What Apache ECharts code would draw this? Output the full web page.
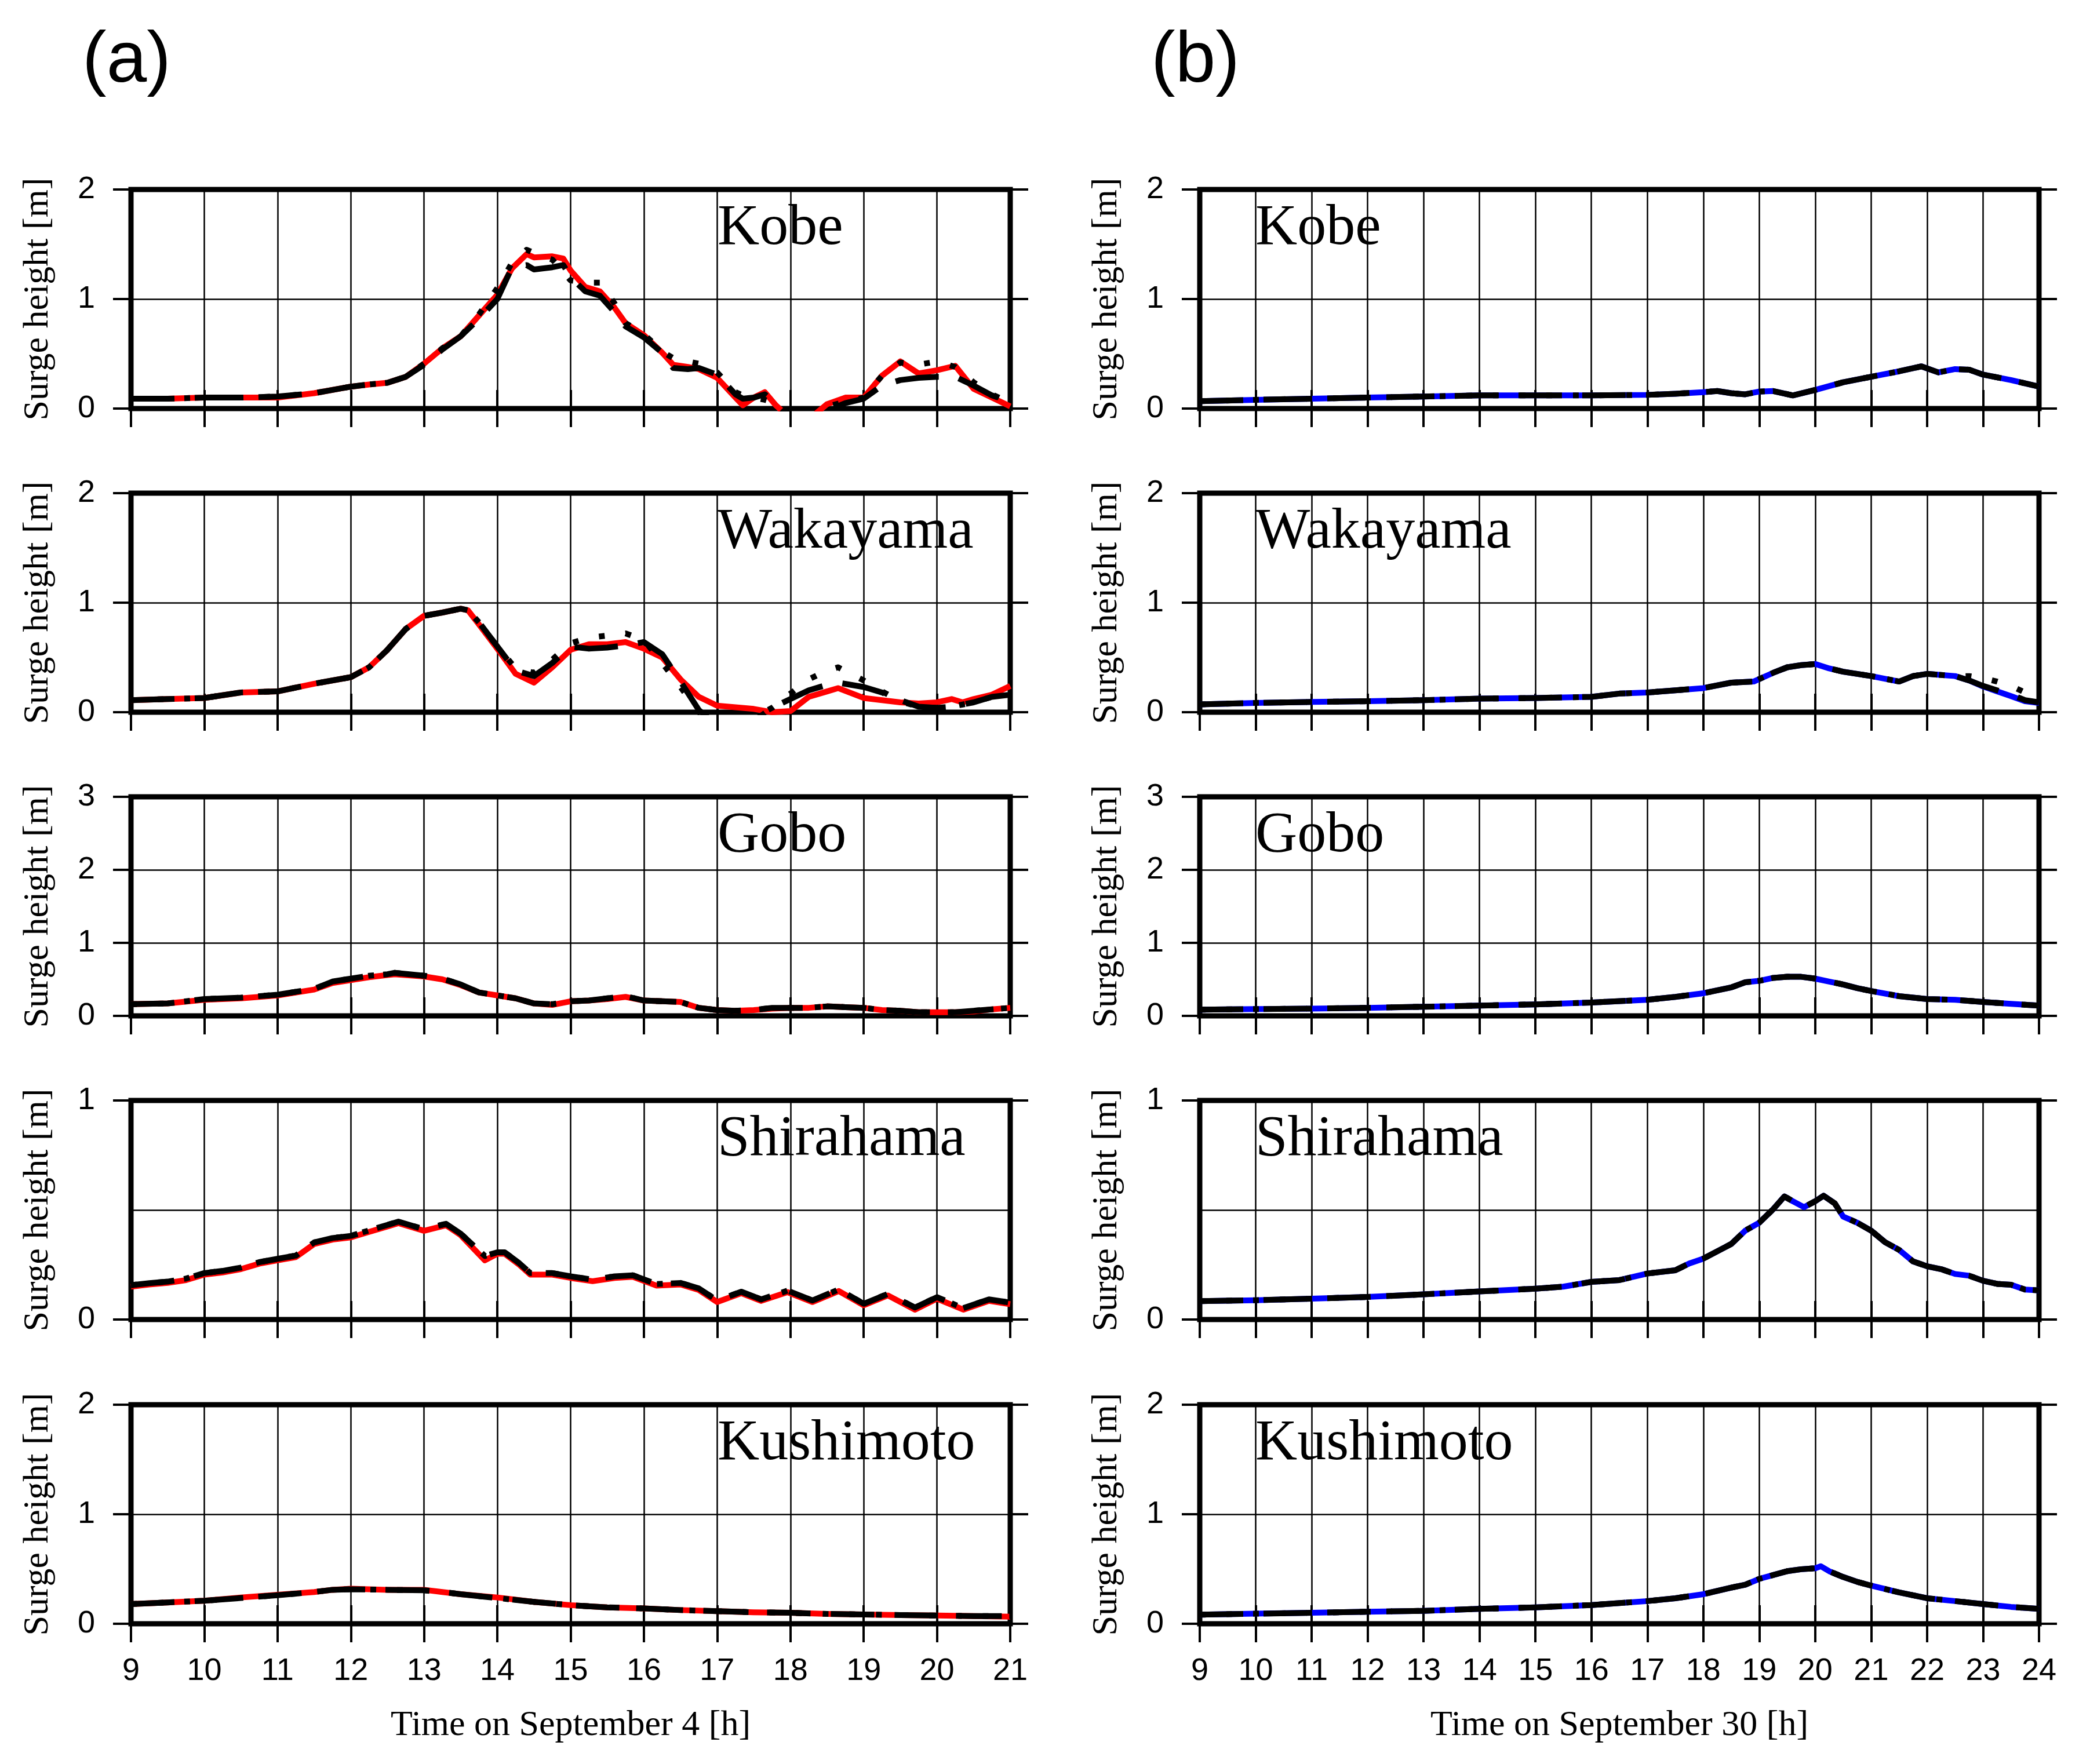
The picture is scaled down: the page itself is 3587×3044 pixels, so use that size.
<!DOCTYPE html>
<html><head><meta charset="utf-8">
<script src="https://cdn.jsdelivr.net/npm/echarts@6/dist/echarts.min.js"></script>
<style>html,body{margin:0;padding:0;background:#fff}#c{width:3587px;height:3044px}</style>
</head><body><div id="c"></div>
<script>
// ---------- DATA (September 4, column a) ----------
const kobeA_t   = [9,9.5,10,10.5,11,11.5,12,12.25,12.5,12.75,13,13.25,13.5,13.75,14,14.2,14.4,14.5,14.75,14.9,15,15.2,15.4,15.6,15.75,16,16.25,16.4,16.6,16.75,17,17.25,17.35,17.5,17.65,17.8,17.9,18,18.25,18.5,18.75,19,19.25,19.5,19.75,20,20.25,20.5,20.75,21];
const kobeA_obs = [0.09,0.09,0.10,0.10,0.10,0.14,0.20,0.22,0.235,0.29,0.41,0.55,0.66,0.85,1.04,1.28,1.41,1.38,1.39,1.37,1.26,1.11,1.07,0.92,0.78,0.67,0.51,0.40,0.38,0.36,0.28,0.10,0.03,0.10,0.15,0.03,-0.03,-0.08,-0.10,0.04,0.10,0.10,0.30,0.43,0.32,0.35,0.39,0.18,0.10,0.02];
const kobeA_dash= [0.09,0.09,0.10,0.10,0.11,0.14,0.20,0.22,0.235,0.29,0.40,0.54,0.66,0.82,1.00,1.29,1.31,1.27,1.29,1.31,1.20,1.07,1.03,0.88,0.75,0.65,0.51,0.37,0.36,0.37,0.31,0.13,0.09,0.10,0.13,0.05,-0.02,-0.08,-0.12,-0.02,0.05,0.09,0.21,0.26,0.28,0.29,0.29,0.21,0.12,0.06];
const kobeA_dot = [0.09,0.09,0.10,0.10,0.11,0.14,0.20,0.22,0.235,0.29,0.41,0.55,0.66,0.86,1.10,1.33,1.45,1.42,1.36,1.25,1.17,1.15,1.15,0.96,0.78,0.68,0.52,0.46,0.43,0.41,0.33,0.15,0.12,0.10,0.08,0.05,0.00,-0.05,-0.08,0.02,0.06,0.10,0.30,0.42,0.40,0.43,0.38,0.24,0.13,0.05];

const wakaA_t   = [9,9.5,10,10.5,11,11.5,12,12.25,12.5,12.75,13,13.25,13.5,13.6,13.75,14,14.25,14.5,14.75,15,15.25,15.5,15.75,16,16.25,16.5,16.75,17,17.25,17.5,17.75,18,18.25,18.5,18.65,19,19.25,19.5,19.75,20,20.2,20.35,20.5,20.75,21];
const wakaA_obs = [0.11,0.12,0.13,0.18,0.19,0.26,0.32,0.41,0.57,0.76,0.88,0.91,0.945,0.93,0.80,0.58,0.35,0.27,0.41,0.57,0.62,0.62,0.64,0.58,0.50,0.30,0.14,0.06,0.045,0.03,0.0,0.01,0.14,0.19,0.22,0.13,0.11,0.09,0.08,0.09,0.12,0.09,0.12,0.16,0.24];
const wakaA_dash= [0.11,0.12,0.13,0.18,0.19,0.26,0.32,0.41,0.57,0.76,0.88,0.91,0.945,0.93,0.82,0.60,0.38,0.33,0.45,0.60,0.58,0.59,0.61,0.64,0.53,0.28,0.02,-0.12,-0.15,-0.08,0.04,0.12,0.20,0.25,0.27,0.23,0.18,0.11,0.05,0.04,0.05,0.07,0.09,0.14,0.16];
const wakaA_dot = [0.11,0.12,0.13,0.18,0.19,0.26,0.32,0.41,0.57,0.76,0.88,0.91,0.945,0.93,0.82,0.60,0.40,0.36,0.48,0.63,0.68,0.70,0.72,0.66,0.45,0.23,0.0,-0.10,-0.12,-0.05,0.04,0.17,0.30,0.38,0.41,0.29,0.19,0.10,0.05,0.04,0.05,0.07,0.09,0.14,0.16];

const goboA_t   = [9,9.5,10,10.5,11,11.5,11.75,12,12.25,12.5,12.6,13,13.25,13.5,13.75,14,14.25,14.5,14.75,15,15.25,15.5,15.75,16,16.25,16.5,16.75,17,17.25,17.5,17.75,18,18.25,18.5,18.75,19,19.25,19.5,19.75,20,20.25,20.5,20.75,21];
const goboA_obs = [0.16,0.17,0.22,0.24,0.28,0.36,0.45,0.49,0.53,0.56,0.57,0.54,0.50,0.42,0.32,0.28,0.24,0.17,0.15,0.20,0.21,0.23,0.26,0.21,0.20,0.19,0.11,0.08,0.07,0.08,0.10,0.11,0.11,0.13,0.12,0.11,0.08,0.07,0.05,0.05,0.05,0.06,0.09,0.11];
const goboA_dash= [0.16,0.17,0.23,0.25,0.29,0.37,0.47,0.51,0.55,0.57,0.59,0.55,0.51,0.43,0.32,0.28,0.24,0.17,0.16,0.20,0.21,0.24,0.27,0.21,0.20,0.19,0.11,0.08,0.07,0.08,0.11,0.11,0.11,0.13,0.12,0.11,0.08,0.07,0.05,0.05,0.05,0.07,0.09,0.11];
const goboA_dot = [0.16,0.17,0.23,0.25,0.29,0.37,0.47,0.51,0.55,0.57,0.59,0.55,0.51,0.43,0.32,0.28,0.24,0.17,0.16,0.20,0.21,0.24,0.27,0.21,0.20,0.19,0.11,0.08,0.07,0.08,0.11,0.11,0.11,0.13,0.12,0.11,0.08,0.07,0.05,0.05,0.05,0.07,0.09,0.11];

const shiraA_t   = [9,9.25,9.5,9.75,10,10.25,10.5,10.75,11,11.25,11.5,11.75,12,12.25,12.5,12.65,13,13.3,13.5,13.83,14,14.1,14.3,14.45,14.75,15,15.3,15.6,15.85,16.17,16.5,16.75,17,17.33,17.6,17.96,18.3,18.66,19,19.33,19.7,20,20.36,20.71,21];
const shiraA_obs = [0.15,0.16,0.167,0.18,0.205,0.215,0.23,0.255,0.27,0.285,0.345,0.365,0.375,0.40,0.425,0.44,0.405,0.43,0.385,0.27,0.30,0.30,0.25,0.205,0.205,0.19,0.175,0.19,0.195,0.155,0.16,0.135,0.08,0.12,0.085,0.125,0.08,0.13,0.065,0.11,0.045,0.095,0.045,0.085,0.07];
const shiraA_dash= [0.157,0.166,0.173,0.187,0.212,0.222,0.237,0.262,0.277,0.292,0.352,0.372,0.382,0.407,0.432,0.447,0.412,0.437,0.392,0.29,0.307,0.307,0.257,0.212,0.212,0.197,0.182,0.197,0.202,0.162,0.167,0.142,0.087,0.127,0.092,0.132,0.087,0.137,0.072,0.117,0.055,0.102,0.052,0.092,0.077];
const shiraA_dot = [0.157,0.166,0.173,0.187,0.212,0.222,0.237,0.262,0.277,0.292,0.352,0.372,0.382,0.407,0.432,0.447,0.412,0.437,0.392,0.29,0.307,0.307,0.257,0.212,0.212,0.197,0.182,0.197,0.202,0.162,0.167,0.142,0.087,0.127,0.092,0.132,0.087,0.137,0.072,0.117,0.055,0.102,0.052,0.092,0.077];

const kushiA_t   = [9,9.5,10,10.5,11,11.5,11.75,12,12.5,13,13.25,13.5,14,14.5,15,15.5,16,16.5,17,17.5,18,18.5,19,19.5,20,20.5,21];
const kushiA_obs = [0.18,0.195,0.21,0.24,0.265,0.29,0.31,0.32,0.31,0.31,0.29,0.27,0.24,0.20,0.17,0.15,0.14,0.125,0.115,0.105,0.10,0.09,0.085,0.08,0.075,0.07,0.065];
const kushiA_dash= [0.18,0.195,0.21,0.235,0.26,0.29,0.31,0.315,0.31,0.305,0.29,0.27,0.235,0.20,0.17,0.15,0.14,0.125,0.115,0.105,0.10,0.09,0.085,0.08,0.075,0.07,0.07];
const kushiA_dot = [0.18,0.195,0.21,0.235,0.26,0.29,0.31,0.315,0.31,0.305,0.29,0.27,0.235,0.20,0.17,0.15,0.14,0.125,0.115,0.105,0.10,0.09,0.085,0.08,0.075,0.07,0.07];

// ---------- DATA (September 30, column b) ----------
const kobeB_t   = [9,10,11,12,13,14,15,16,17,17.5,18,18.25,18.5,18.75,19,19.25,19.6,20,20.5,21,21.5,21.9,22.2,22.5,22.75,23,23.5,24];
const kobeB_obs = [0.067,0.08,0.09,0.10,0.11,0.12,0.12,0.12,0.125,0.135,0.15,0.16,0.14,0.13,0.155,0.16,0.12,0.17,0.24,0.29,0.34,0.385,0.33,0.36,0.355,0.31,0.26,0.20];
const kobeB_dash= [0.067,0.08,0.09,0.10,0.11,0.12,0.12,0.12,0.125,0.135,0.15,0.16,0.14,0.13,0.155,0.16,0.12,0.17,0.24,0.29,0.34,0.385,0.33,0.36,0.355,0.31,0.26,0.20];
const kobeB_dot = [0.067,0.08,0.09,0.10,0.11,0.12,0.12,0.12,0.125,0.135,0.15,0.16,0.14,0.13,0.155,0.16,0.12,0.17,0.24,0.29,0.34,0.385,0.33,0.36,0.355,0.31,0.26,0.20];

const wakaB_t   = [9,10,11,12,13,14,15,16,16.5,17,17.5,18,18.5,18.9,19.25,19.5,19.75,20,20.25,20.5,20.75,21,21.25,21.5,21.75,22,22.25,22.5,22.75,23,23.25,23.5,23.75,24];
const wakaB_obs = [0.072,0.085,0.094,0.10,0.11,0.124,0.13,0.14,0.17,0.18,0.20,0.22,0.27,0.28,0.36,0.41,0.43,0.44,0.40,0.37,0.35,0.33,0.305,0.28,0.33,0.35,0.34,0.33,0.29,0.235,0.19,0.147,0.10,0.085];
const wakaB_dash= [0.072,0.085,0.094,0.10,0.11,0.124,0.13,0.14,0.17,0.18,0.20,0.22,0.27,0.28,0.36,0.41,0.43,0.44,0.40,0.37,0.35,0.33,0.305,0.28,0.33,0.35,0.34,0.33,0.29,0.24,0.20,0.16,0.11,0.09];
const wakaB_dot = [0.072,0.085,0.094,0.10,0.11,0.124,0.13,0.14,0.17,0.18,0.20,0.22,0.27,0.28,0.36,0.41,0.43,0.44,0.40,0.37,0.35,0.33,0.305,0.28,0.33,0.35,0.34,0.33,0.33,0.31,0.28,0.24,0.18,0.12];

const goboB_t   = [9,10,11,12,13,14,15,16,17,17.5,18,18.5,18.75,19,19.25,19.5,19.75,20,20.25,20.5,20.75,21,21.5,22,22.5,23,23.5,24];
const goboB_obs = [0.085,0.093,0.10,0.11,0.125,0.14,0.157,0.183,0.22,0.26,0.31,0.39,0.46,0.48,0.52,0.535,0.535,0.51,0.47,0.43,0.38,0.34,0.27,0.23,0.22,0.19,0.165,0.14];
const goboB_dash= [0.085,0.093,0.10,0.11,0.125,0.14,0.157,0.183,0.22,0.26,0.31,0.39,0.46,0.48,0.52,0.535,0.535,0.51,0.47,0.43,0.38,0.34,0.27,0.23,0.22,0.19,0.165,0.14];
const goboB_dot = [0.085,0.093,0.10,0.11,0.125,0.14,0.157,0.183,0.22,0.26,0.31,0.39,0.46,0.48,0.52,0.535,0.535,0.51,0.47,0.43,0.38,0.34,0.27,0.23,0.22,0.19,0.165,0.14];

const shiraB_t   = [9,10,11,12,13,14,15,15.5,16,16.5,17,17.5,17.75,18,18.5,18.75,19,19.25,19.45,19.6,19.8,20,20.15,20.35,20.5,20.75,21,21.25,21.5,21.75,22,22.25,22.5,22.75,23,23.25,23.5,23.75,24];
const shiraB_obs = [0.084,0.088,0.095,0.103,0.115,0.128,0.141,0.15,0.172,0.18,0.21,0.225,0.256,0.278,0.345,0.406,0.442,0.504,0.562,0.54,0.513,0.54,0.565,0.53,0.47,0.442,0.406,0.353,0.318,0.265,0.243,0.23,0.208,0.20,0.177,0.163,0.159,0.137,0.133];
const shiraB_dash= [0.084,0.088,0.095,0.103,0.115,0.128,0.141,0.15,0.172,0.18,0.21,0.225,0.256,0.278,0.345,0.406,0.442,0.504,0.562,0.54,0.513,0.54,0.565,0.53,0.47,0.442,0.406,0.353,0.318,0.265,0.243,0.23,0.208,0.20,0.177,0.163,0.159,0.137,0.133];
const shiraB_dot = [0.084,0.088,0.095,0.103,0.115,0.128,0.141,0.15,0.172,0.18,0.21,0.225,0.256,0.278,0.345,0.406,0.442,0.504,0.562,0.54,0.513,0.54,0.565,0.53,0.47,0.442,0.406,0.353,0.318,0.265,0.243,0.23,0.208,0.20,0.177,0.163,0.159,0.137,0.133];

const kushiB_t   = [9,10,11,12,13,14,15,16,17,17.5,18,18.5,18.75,19,19.25,19.5,19.75,20,20.1,20.25,20.5,20.75,21,21.5,22,22.5,23,23.5,24];
const kushiB_obs = [0.083,0.092,0.10,0.11,0.118,0.136,0.15,0.171,0.207,0.233,0.27,0.33,0.357,0.41,0.445,0.48,0.498,0.507,0.525,0.48,0.427,0.383,0.348,0.286,0.233,0.207,0.18,0.154,0.136];
const kushiB_dash= [0.083,0.092,0.10,0.11,0.118,0.136,0.15,0.171,0.207,0.233,0.27,0.33,0.357,0.41,0.445,0.48,0.498,0.507,0.525,0.48,0.427,0.383,0.348,0.286,0.233,0.207,0.18,0.154,0.136];
const kushiB_dot = [0.083,0.092,0.10,0.11,0.118,0.136,0.15,0.171,0.207,0.233,0.27,0.33,0.357,0.41,0.445,0.48,0.498,0.507,0.525,0.48,0.427,0.383,0.348,0.286,0.233,0.207,0.18,0.154,0.136];

// ---------- LABELS / AXES ----------
const stations = ['Kobe','Wakayama','Gobo','Shirahama','Kushimoto'];
const yMax = [2,2,3,1,2];
const xMin = 9;
const xMax = [21,24];
const panelTags = ['(a)','(b)'];
const xTitles = ['Time on September 4 [h]','Time on September 30 [h]'];
const yTitle = 'Surge height [m]';
const obsColours = ['#ff0000','#0000ff'];

const panels = [
  [[kobeA_t,kobeA_obs,kobeA_dash,kobeA_dot],[wakaA_t,wakaA_obs,wakaA_dash,wakaA_dot],[goboA_t,goboA_obs,goboA_dash,goboA_dot],[shiraA_t,shiraA_obs,shiraA_dash,shiraA_dot],[kushiA_t,kushiA_obs,kushiA_dash,kushiA_dot]],
  [[kobeB_t,kobeB_obs,kobeB_dash,kobeB_dot],[wakaB_t,wakaB_obs,wakaB_dash,wakaB_dot],[goboB_t,goboB_obs,goboB_dash,goboB_dot],[shiraB_t,shiraB_obs,shiraB_dash,shiraB_dot],[kushiB_t,kushiB_obs,kushiB_dash,kushiB_dot]]
];

// ---------- LAYOUT ----------
const colLeft = [226, 2070], colW = [1517, 1448];
const rowTop = [327, 851, 1375, 1899, 2424], rowH = 378;
const tagX = [142, 1986];
const stationX = [1238, 2166];
const yTitleX = [66, 1910];

const grids = [], xAxes = [], yAxes = [], series = [], graphics = [];
const zip = (t, v) => t.map((x, i) => [x, v[i]]);
const tickStyle = {color:'#000', width:4};
const gridLine = {color:'#000', width:2.5};
const LW = 10;
let gi = 0;
for (let c = 0; c < 2; c++) {
  for (let r = 0; r < 5; r++) {
    grids.push({left: colLeft[c], top: rowTop[r], width: colW[c], height: rowH, show: true,
      borderColor: '#000', borderWidth: 9, backgroundColor: 'transparent', containLabel: false});
    const xb = {type:'value', gridIndex: gi, min: xMin, max: xMax[c], interval: 1,
      axisLine:{show:false}, axisTick:{show:true, inside:false, length:32, lineStyle:tickStyle}};
    xAxes.push(Object.assign({}, xb, {position:'bottom',
      axisLabel:{show: r === 4, fontSize:54, fontFamily:'Liberation Sans', color:'#000', margin:55},
      splitLine:{show:true, lineStyle:gridLine}}));
    xAxes.push(Object.assign({}, xb, {position:'top', axisLabel:{show:false}, splitLine:{show:false}}));
    const yb = {type:'value', gridIndex: gi, min: 0, max: yMax[r], interval: 1,
      axisLine:{show:false}, axisTick:{show:true, inside:false, length:31, lineStyle:tickStyle}};
    const left = Object.assign({}, yb, {position:'left',
      axisLabel:{show:true, fontSize:54, fontFamily:'Liberation Sans', color:'#000', margin:62},
      splitLine:{show:true, lineStyle:gridLine}});
    if (yMax[r] === 1) {
      left.minorTick = {show:false, splitNumber:2};
      left.minorSplitLine = {show:true, lineStyle:gridLine};
    }
    yAxes.push(left);
    yAxes.push(Object.assign({}, yb, {position:'right', axisLabel:{show:false}, splitLine:{show:false}}));

    const [t, obs, dash, dot] = panels[c][r];
    const common = {type:'line', xAxisIndex: 2*gi, yAxisIndex: 2*gi, symbol:'none', showSymbol:false,
      animation:false, silent:true, clip:true};
    series.push(Object.assign({}, common, {data: zip(t, obs), z:3,
      lineStyle:{color: obsColours[c], width:LW, cap:'butt', join:'round'}}));
    series.push(Object.assign({}, common, {data: zip(t, dot), z:4,
      lineStyle:{color:'#000', width:LW, type:[10,36], cap:'butt', join:'round'}}));
    series.push(Object.assign({}, common, {data: zip(t, dash), z:5,
      lineStyle:{color:'#000', width:LW, type:[75,35], cap:'butt', join:'round'}}));

    graphics.push({type:'text', x: stationX[c], y: rowTop[r] + 68, z: 10,
      style:{text: stations[r], font:'100px "Liberation Serif"', fill:'#000', align:'left', verticalAlign:'middle'}});
    graphics.push({type:'text', x: yTitleX[c], y: rowTop[r] + rowH/2, rotation: Math.PI/2, z: 10,
      style:{text: yTitle, font:'62px "Liberation Serif"', fill:'#000', align:'center', verticalAlign:'middle'}});
    gi++;
  }
  graphics.push({type:'text', x: tagX[c], y: 107, z: 10,
    style:{text: panelTags[c], font:'125px "Liberation Sans"', fill:'#000', align:'left', verticalAlign:'middle'}});
  graphics.push({type:'text', x: colLeft[c] + colW[c]/2, y: 2978, z: 10,
    style:{text: xTitles[c], font:'62px "Liberation Serif"', fill:'#000', align:'center', verticalAlign:'middle'}});
}

const chart = echarts.init(document.getElementById('c'), null, {renderer:'canvas', width:3587, height:3044});
chart.setOption({
  backgroundColor:'#ffffff',
  animation:false,
  grid: grids, xAxis: xAxes, yAxis: yAxes, series: series, graphic: graphics
});
</script></body></html>
